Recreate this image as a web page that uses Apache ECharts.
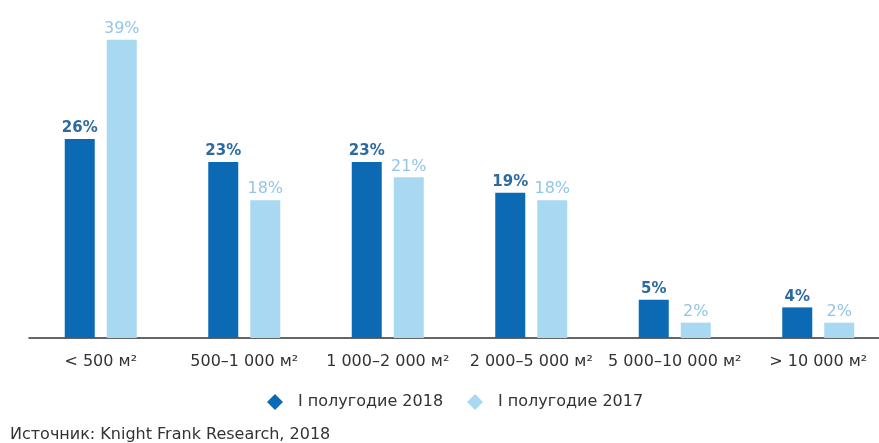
<!DOCTYPE html>
<html>
<head>
<meta charset="utf-8">
<style>
  html, body { margin: 0; padding: 0; background: #fff; }
  #chart { width: 879px; height: 443px; }
</style>
<script src="https://cdn.jsdelivr.net/npm/echarts@6/dist/echarts.min.js"></script>
</head>
<body>
<div id="chart"></div>
<script>
// Office deal sizes, share of total by floor-area band
const categories = ['< 500 м²', '500–1 000 м²', '1 000–2 000 м²', '2 000–5 000 м²', '5 000–10 000 м²', '> 10 000 м²'];
const seriesNames = ['I полугодие 2018', 'I полугодие 2017'];
const values2018 = [26, 23, 23, 19, 5, 4];
const values2017 = [39, 18, 21, 18, 2, 2];
const sourceText = 'Источник: Knight Frank Research, 2018';

const DARK = '#0b6ab3';
const LIGHT = '#a8d8f2';
const FONT = '"DejaVu Sans", "Noto Sans", sans-serif';

// The band axis runs past the right edge: each band is 143.5px wide and the
// plot area (29..879px) holds about 5.92 of them.
const PLOT_LEFT = 29;
const PLOT_WIDTH = 879 - PLOT_LEFT;
const BAND = 143.5;
const xMin = -0.5;
const xMax = xMin + PLOT_WIDTH / BAND;
const bandIndex = categories.map((_, i) => i);

const chart = echarts.init(document.getElementById('chart'), null, { renderer: 'canvas' });

function barSeries(name, values, color, labelColor, labelSize, labelWeight) {
  return {
    name: name,
    type: 'bar',
    data: values.map((v, i) => [i, v]),
    barWidth: 30,
    barGap: '40%',
    itemStyle: { color: color },
    label: {
      show: true,
      position: 'top',
      distance: 3,
      formatter: p => p.value[1] + '%',
      color: labelColor,
      fontFamily: FONT,
      fontSize: labelSize,
      fontWeight: labelWeight
    }
  };
}

chart.setOption({
  animation: false,
  backgroundColor: '#ffffff',
  grid: { left: PLOT_LEFT, right: 0, top: 32, height: 306, containLabel: false },
  title: {
    text: sourceText,
    left: 5,
    top: 422,
    textStyle: { fontFamily: FONT, fontSize: 16, fontWeight: 400, color: '#333' }
  },
  legend: {
    left: 262,
    top: 389,
    itemWidth: 16,
    itemHeight: 16,
    itemGap: 24,
    icon: 'diamond',
    data: seriesNames,
    textStyle: { fontFamily: FONT, fontSize: 16, color: '#333', padding: [0, 0, 0, 10] }
  },
  xAxis: {
    type: 'value',
    min: xMin,
    max: xMax,
    splitLine: { show: false },
    axisLine: { show: true, onZero: false, lineStyle: { color: '#333', width: 1.5 } },
    axisTick: { show: false },
    axisLabel: {
      customValues: bandIndex,
      margin: 16,
      fontFamily: FONT,
      fontSize: 16,
      color: '#333',
      hideOverlap: false,
      formatter: v => categories[Math.round(v)] || ''
    }
  },
  yAxis: {
    type: 'value',
    min: 0,
    max: 40,
    show: false
  },
  series: [
    barSeries(seriesNames[0], values2018, DARK, '#2d6aa0', 15, 'bold'),
    barSeries(seriesNames[1], values2017, LIGHT, '#92c6e6', 16, 'normal')
  ]
});
</script>
</body>
</html>
